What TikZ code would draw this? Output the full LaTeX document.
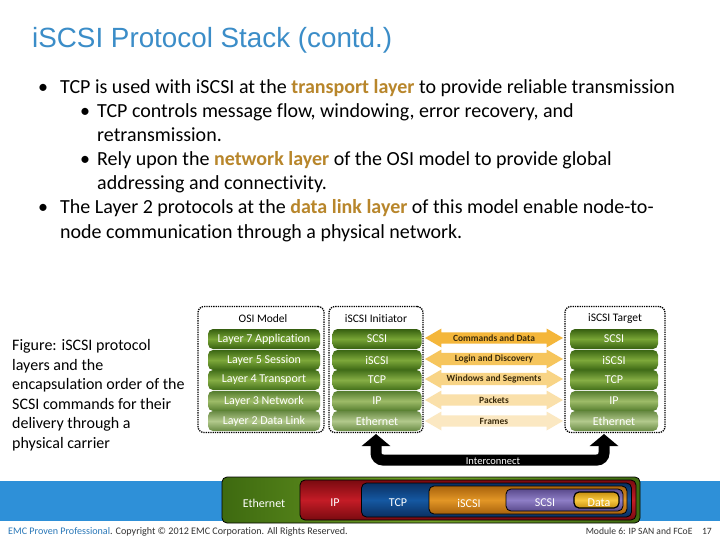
\documentclass[tikz,border=0pt]{standalone}
\usepackage{fontspec}
\setmainfont{Carlito}[Ligatures=NoCommon]
\newfontfamily\titlefont{Liberation Sans}
\usetikzlibrary{shapes.arrows,arrows.meta}
\definecolor{titleblue}{HTML}{3B8DC8}
\definecolor{gold}{HTML}{B8862B}
\definecolor{emcblue}{HTML}{2A78B8}
\definecolor{bandblue}{HTML}{2E90D8}
\definecolor{g1e}{HTML}{365F10}\definecolor{g1m}{HTML}{78A535}
\definecolor{g2e}{HTML}{3C6714}\definecolor{g2m}{HTML}{7DA83A}
\definecolor{g3e}{HTML}{436F1A}\definecolor{g3m}{HTML}{86AE45}
\definecolor{g4e}{HTML}{557D2E}\definecolor{g4m}{HTML}{9DBB68}
\definecolor{g5e}{HTML}{688A43}\definecolor{g5m}{HTML}{B2C98C}
\definecolor{or1}{HTML}{F4B63A}
\definecolor{or2}{HTML}{F6C55C}
\definecolor{or3}{HTML}{F8D486}
\definecolor{or4}{HTML}{FAE0AA}
\definecolor{or5}{HTML}{FBE8C2}
\definecolor{arrtext}{HTML}{3B2B0B}
\definecolor{ethE}{HTML}{3E6A10}\definecolor{ethM}{HTML}{72A326}
\definecolor{ipE}{HTML}{7A0A10}\definecolor{ipM}{HTML}{C41C26}
\definecolor{tcpE}{HTML}{0A2F60}\definecolor{tcpM}{HTML}{1558A2}
\definecolor{isE}{HTML}{A8620C}\definecolor{isM}{HTML}{E29626}
\definecolor{scE}{HTML}{5A4A8C}\definecolor{scM}{HTML}{8E7EC6}
\definecolor{daE}{HTML}{C89010}\definecolor{daM}{HTML}{F8C840}
\tikzset{
  bl/.style={anchor=base west, inner sep=0pt, font=\fontsize{20}{22}\selectfont},
  captext/.style={anchor=base west, inner sep=0pt, font=\fontsize{16}{18}\selectfont},
  stackbox/.style={draw=black, densely dotted, line width=1.3pt, rounded corners=6pt, minimum height=126pt},
  boxtitle/.style={inner sep=0pt, font=\fontsize{11.5}{12}\selectfont},
  bar/.style={rounded corners=5pt, minimum height=20pt, inner sep=0pt, text=white,
    font=\fontsize{12}{13}\selectfont, shading=axis},
  darrow/.style={shape=double arrow, double arrow head extend=3pt, double arrow tip angle=60,
    minimum height=138pt, minimum width=19pt, inner sep=1pt, text=arrtext,
    font=\bfseries\fontsize{9.5}{10}\selectfont},
  encap/.style={draw=black, line width=0.8pt, rounded corners=5pt, shading=axis},
  enctext/.style={text=white, inner sep=0pt, font=\fontsize{12}{13}\selectfont},
}
\begin{document}
\begin{tikzpicture}[x=1pt,y=-1pt]
\useasboundingbox (0,0) rectangle (720,540);
\fill[white] (0,0) rectangle (720,540);
% title
\node[anchor=base west, inner sep=0pt, text=titleblue, font=\titlefont\fontsize{27.8}{30}\selectfont] (title) at (32,48) {iSCSI Protocol Stack (contd.)};
% bullets
\node[bl] (d1) at (38,94) {\textbullet};
\node[bl] (t1) at (60,94) {TCP is used with iSCSI at the \textcolor{gold}{\bfseries transport layer} to provide reliable transmission};
\node[bl] (d2) at (80,118) {\textbullet};
\node[bl] (t2) at (97,118) {TCP controls message flow, windowing, error recovery, and};
\node[bl] (t3) at (97,142) {retransmission.};
\node[bl] (d3) at (80,166) {\textbullet};
\node[bl] (t4) at (97,166) {Rely upon the \textcolor{gold}{\bfseries network layer} of the OSI model to provide global};
\node[bl] (t5) at (97,190) {addressing and connectivity.};
\node[bl] (d4) at (38,214) {\textbullet};
\node[bl] (t6) at (60,214) {The Layer 2 protocols at the \textcolor{gold}{\bfseries data link layer} of this model enable node-to-};
\node[bl] (t7) at (60,238) {node communication through a physical network.};
% caption
\node[captext] (c1) at (12,350) {Figure: iSCSI protocol};
\node[captext] (c2) at (12,370) {layers and the};
\node[captext] (c3) at (12,389) {encapsulation order of the};
\node[captext] (c4) at (12,409) {SCSI commands for their};
\node[captext] (c5) at (12,428) {delivery through a};
\node[captext] (c6) at (12,448) {physical carrier};
% stack boxes
\node[stackbox, minimum width=126pt] (osi) at (261,369.5) {};
\node[stackbox, minimum width=94pt] (ini) at (376,369.5) {};
\node[stackbox, minimum width=100pt] (tgt) at (615,369.5) {};
\node[boxtitle] (osiT) at (263,319) {OSI Model};
\node[boxtitle] (iniT) at (376,319) {iSCSI Initiator};
\node[boxtitle] (tgtT) at (615,319) {iSCSI Target};
\foreach \i/\y/\e/\m/\a/\b/\c in {1/339/g1e/g1m/Layer 7 Application/SCSI/SCSI,
  2/360/g2e/g2m/Layer 5 Session/iSCSI/iSCSI,
  3/380/g3e/g3m/Layer 4 Transport/TCP/TCP,
  4/401/g4e/g4m/Layer 3 Network/IP/IP,
  5/421/g5e/g5m/Layer 2 Data Link/Ethernet/Ethernet}{
  \node[bar, minimum width=112pt, top color=\e, bottom color=\e, middle color=\m] (osi\i) at (264,\y) {\a};
  \node[bar, minimum width=89pt, top color=\e, bottom color=\e, middle color=\m] (ini\i) at (377,\y) {\b};
  \node[bar, minimum width=88pt, top color=\e, bottom color=\e, middle color=\m] (tgt\i) at (614,\y) {\c};
}
% orange double arrows
\foreach \i/\y/\col/\t in {1/338/or1/Commands and Data, 2/359/or2/Login and Discovery,
  3/379/or3/Windows and Segments, 4/400/or4/Packets, 5/421/or5/Frames}{
  \node[darrow, fill=\col] (arr\i) at (494,\y) {\t};
}
% interconnect
\coordinate (icL) at (376,434);
\coordinate (icR) at (604,434);
\draw[line width=11pt, rounded corners=7pt, {Triangle[width=28pt,length=12pt]}-{Triangle[width=28pt,length=12pt]}]
  (icL) -- (376,460) -- (604,460) -- (icR);
\node[inner sep=0pt, text=white, font=\fontsize{10.5}{11}\selectfont] (icT) at (493,461) {Interconnect};
% blue band
\fill[bandblue] (0,481) rectangle (720,521);
% encapsulation
\node[encap, minimum width=418pt, minimum height=46pt, left color=ethE, right color=ethE, middle color=ethM] (eth) at (431,500) {};
\node[encap, minimum width=336pt, minimum height=40pt, top color=ipE, bottom color=ipE, middle color=ipM] (ip) at (468,500) {};
\node[encap, minimum width=270pt, minimum height=34pt, top color=tcpE, bottom color=tcpE, middle color=tcpM] (tcp) at (496.5,500) {};
\node[encap, minimum width=198pt, minimum height=28pt, top color=isE, bottom color=isE, middle color=isM] (iscsi) at (528,500) {};
\node[encap, minimum width=117pt, minimum height=22pt, top color=scE, bottom color=scE, middle color=scM] (scsi) at (564.5,500) {};
\node[encap, line width=1.2pt, minimum width=45pt, minimum height=16pt, top color=daE, bottom color=daE, middle color=daM] (data) at (596.5,500) {};
\node[enctext] (ethT) at (264,503) {Ethernet};
\node[enctext] (ipT) at (335,503) {IP};
\node[enctext] (tcpT) at (398,503) {TCP};
\node[enctext] (isT) at (469,503) {iSCSI};
\node[enctext] (scT) at (545,503) {SCSI};
\node[enctext] (daT) at (599,503) {Data};
% footer
\node[anchor=base west, inner sep=0pt, text=black!80, font=\fontsize{10.1}{11}\selectfont] (foot) at (8,534) {\textcolor{emcblue}{EMC Proven Professional}. Copyright © 2012 EMC Corporation. All Rights Reserved.};
\node[anchor=base east, inner sep=0pt, text=black!80, font=\fontsize{9.6}{11}\selectfont] (page) at (712,534) {Module 6: IP SAN and FCoE\quad 17};
\end{tikzpicture}
\end{document}
